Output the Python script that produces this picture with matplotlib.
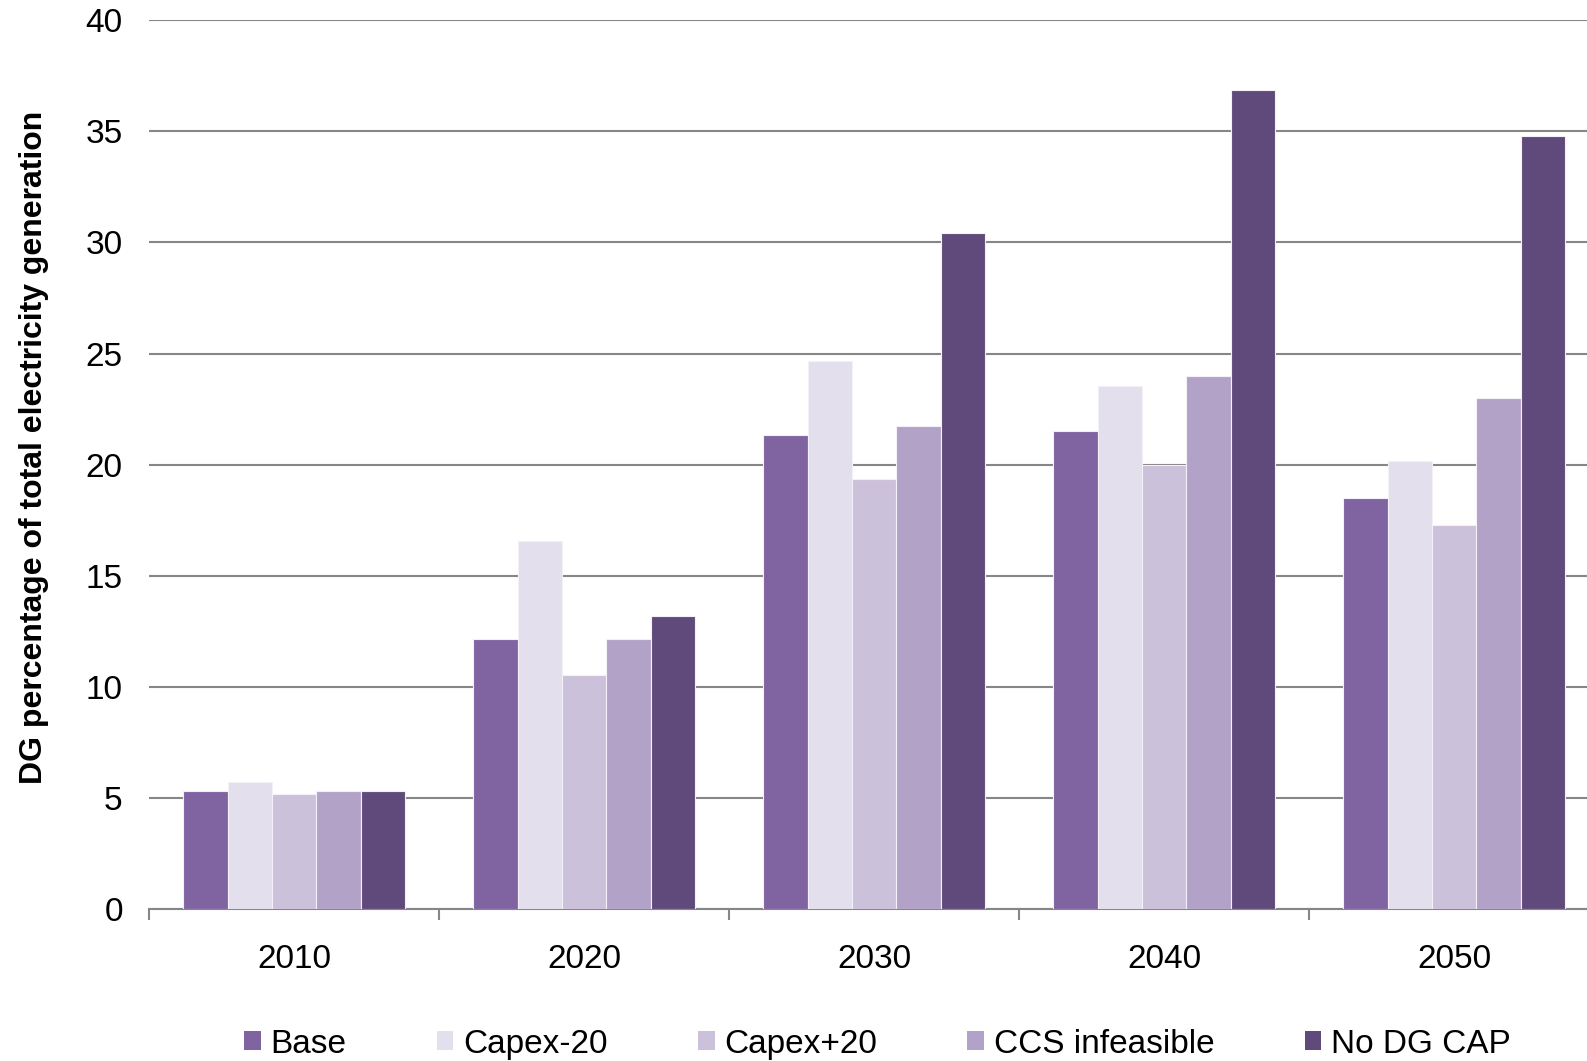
import numpy as np
import matplotlib.pyplot as plt
from matplotlib.patches import Patch

plt.rcParams['font.family'] = ['Liberation Sans', 'DejaVu Sans']

years = ['2010', '2020', '2030', '2040', '2050']
scenarios = ['Base', 'Capex-20', 'Capex+20', 'CCS infeasible', 'No DG CAP']
base = [5.33, 12.16, 21.32, 21.5, 18.5]
capex_m20 = [5.74, 16.58, 24.65, 23.55, 20.18]
capex_p20 = [5.19, 10.52, 19.36, 20.0, 17.27]
ccs_inf = [5.33, 12.16, 21.73, 24.0, 23.0]
no_dg_cap = [5.33, 13.21, 30.43, 36.86, 34.8]
series = [base, capex_m20, capex_p20, ccs_inf, no_dg_cap]
colors = ['#8064A2', '#E4DFEC', '#CCC1DA', '#B3A2C7', '#604A7B']

fig = plt.figure(figsize=(15.87, 10.61), dpi=100)
ax = fig.add_axes([0.094, 0.143, 0.9137, 0.838])

x = np.arange(len(years))
w = 0.153
for i, (vals, c) in enumerate(zip(series, colors)):
    ax.bar(x + (i - 2) * w, vals, width=w, color=c, edgecolor='#f4f0f8',
           linewidth=0.8, zorder=3, label=scenarios[i])

ax.set_xlim(-0.5, 4.5)
ax.set_ylim(0, 40)
ax.set_yticks(range(0, 41, 5))
ax.yaxis.grid(True, color='#868686', linewidth=1.5, zorder=0)
ax.set_xticks(x)
ax.set_xticklabels(years)
ax.set_xticks(np.arange(-0.5, 4.6, 1), minor=True)
ax.tick_params(axis='x', which='major', length=0, pad=25, labelsize=24)
ax.tick_params(axis='x', which='minor', length=8, color='#868686', width=1.5)
ax.tick_params(axis='y', length=0, pad=19, labelsize=24)
for s in ['top', 'right', 'left']:
    ax.spines[s].set_visible(False)
ax.spines['bottom'].set_color('#868686')
ax.spines['bottom'].set_linewidth(1.5)
ax.set_ylabel('DG percentage of total electricity generation', fontsize=23,
              fontweight='bold')
ax.yaxis.set_label_coords(-0.069, 0.52)

handles = [Patch(facecolor=c, edgecolor='none') for c in colors]
fig.legend(handles, scenarios, loc='center', bbox_to_anchor=(0.553, 0.016),
           ncol=5, frameon=False, fontsize=24, handlelength=0.5, handleheight=0.5,
           handletextpad=0.3, columnspacing=2.7)

fig.savefig('out.png', dpi=100)
